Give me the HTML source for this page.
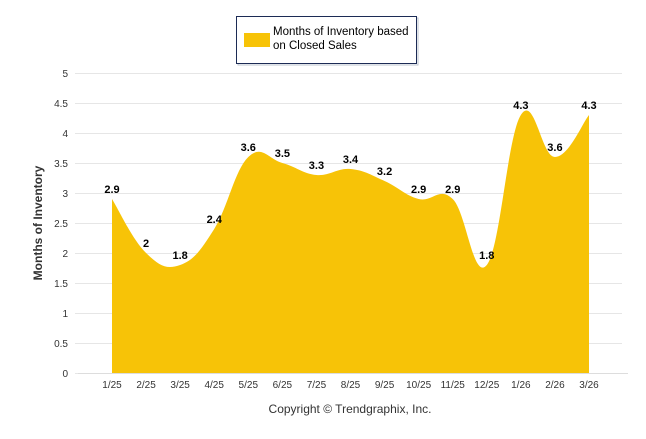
<!DOCTYPE html>
<html><head><meta charset="utf-8"><style>
body{margin:0;background:#fff;width:646px;height:434px;overflow:hidden;font-family:"Liberation Sans",sans-serif}
</style></head><body>
<svg width="646" height="434" font-family="Liberation Sans, sans-serif">
<g>
<rect x="236.5" y="16.5" width="180" height="47" fill="#fff" stroke="#7f8aa0" transform="translate(1.5,1.5)" opacity="0.5"/>
<rect x="236.5" y="16.5" width="180" height="47" fill="#fff" stroke="#1c2b55"/>
<rect x="244" y="33" width="26" height="14" fill="#f7c307"/>
<text x="273" y="35" font-size="11.5" fill="#000">Months of Inventory based</text>
<text x="273" y="49" font-size="11.5" fill="#000">on Closed Sales</text>
</g>
<g id="grid"></g>
<path id="area" fill="#f7c307"/>
<g id="labels"></g>
<g id="xaxis"></g>
<text transform="translate(42,223) rotate(-90)" text-anchor="middle" font-size="12" font-weight="bold" fill="#333">Months of Inventory</text>
<text x="350" y="413" text-anchor="middle" font-size="12" fill="#333">Copyright © Trendgraphix, Inc.</text>
</svg>
<script>
const categories=["1/25","2/25","3/25","4/25","5/25","6/25","7/25","8/25","9/25","10/25","11/25","12/25","1/26","2/26","3/26"];
const values=[2.9,2,1.8,2.4,3.6,3.5,3.3,3.4,3.2,2.9,2.9,1.8,4.3,3.6,4.3];
const yTicks=[0,0.5,1,1.5,2,2.5,3,3.5,4,4.5,5];
const NS="http://www.w3.org/2000/svg";
const x0=112,x1=589,yb=373,yt=73,ymax=5;
const X=i=>x0+(x1-x0)*i/(categories.length-1);
const Y=v=>yb-(yb-yt)*v/ymax;
function mk(t,a,p){const e=document.createElementNS(NS,t);for(const k in a)e.setAttribute(k,a[k]);p.appendChild(e);return e;}
const grid=document.getElementById('grid');
yTicks.forEach(v=>{
 const l=mk('line',{x1:75,x2:622,y1:Y(v)+0.5,y2:Y(v)+0.5,stroke:'#e6e6e6'},grid);
 
 
 const t=mk('text',{x:68,y:Y(v)+4,'text-anchor':'end','font-size':10,fill:'#333'},grid);
 t.textContent=v;
 
 
});
const pts=values.map((v,i)=>[X(i),Y(v)]);
let d=`M${pts[0][0]},${yb}L${pts[0][0]},${pts[0][1]}`;
for(let i=0;i<pts.length-1;i++){
 const p0=pts[Math.max(0,i-1)],p1=pts[i],p2=pts[i+1],p3=pts[Math.min(pts.length-1,i+2)];
 const k=0.2;
 const c1=[p1[0]+(p2[0]-p0[0])*k,p1[1]+(p2[1]-p0[1])*k];
 const c2=[p2[0]-(p3[0]-p1[0])*k,p2[1]-(p3[1]-p1[1])*k];
 d+=`C${c1[0]},${c1[1]} ${c2[0]},${c2[1]} ${p2[0]},${p2[1]}`;
}
d+=`L${pts[pts.length-1][0]},${yb}Z`;
document.getElementById('area').setAttribute('d',d);
const lab=document.getElementById('labels');
values.forEach((v,i)=>{
 const t=mk('text',{x:X(i),y:Y(v)-6,'text-anchor':'middle','font-size':11,'font-weight':'bold',fill:'#000'},lab);
 t.textContent=v;
 
 
});
const xa=document.getElementById('xaxis');
const ax=mk('line',{x1:78,x2:628,y1:yb+0.5,y2:yb+0.5,stroke:'#ddd'},xa);


categories.forEach((c,i)=>{
 const t=mk('text',{x:X(i),y:yb+15,'text-anchor':'middle','font-size':10,fill:'#333'},xa);
 t.textContent=c;
 
 
});
</script>
</body></html>
